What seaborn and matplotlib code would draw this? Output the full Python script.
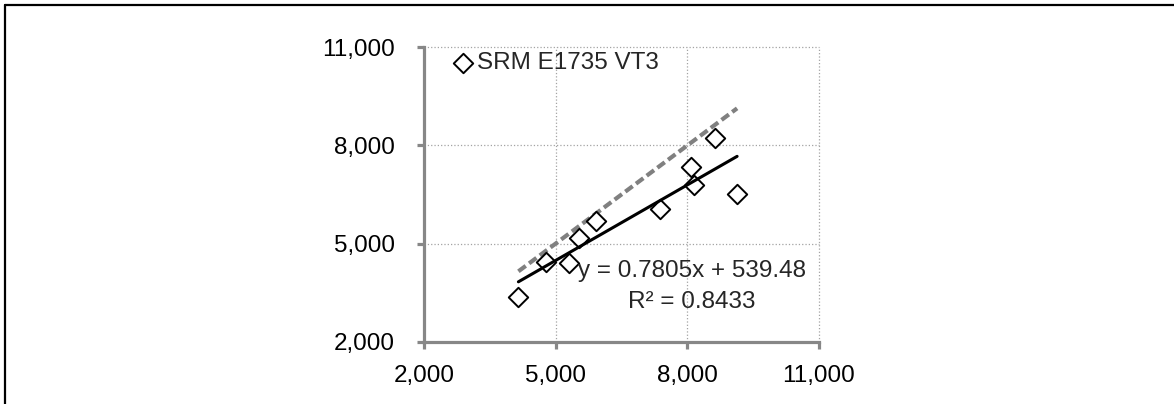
import numpy as np
import pandas as pd
import matplotlib
matplotlib.use("Agg")
import matplotlib.pyplot as plt
from matplotlib.lines import Line2D
import seaborn as sns

# ---- data ----
x_vals = [4151, 4776, 5315, 5536, 5917, 7384, 8084, 8144, 8639, 9134]
y_vals = [3378, 4431, 4400, 5165, 5704, 6053, 7327, 6776, 8236, 6521]
series_name = "SRM E1735 VT3"
tick_values = [2000, 5000, 8000, 11000]
tick_labels = ["2,000", "5,000", "8,000", "11,000"]
equation_text = "y = 0.7805x + 539.48\nR\u00b2 = 0.8433"

df = pd.DataFrame({"x": x_vals, "y": y_vals})
ident = pd.DataFrame({"x": [df["x"].min(), df["x"].max()]})
ident["y"] = ident["x"]

sns.set_style("white")
plt.rcParams["font.family"] = ["Liberation Sans", "DejaVu Sans"]

W, H = 1174, 404
fig = plt.figure(figsize=(W / 100, H / 100), dpi=100)
L, R, T, B = 424, 819, 47.3, 341.7
ax = fig.add_axes([L / W, 1 - B / H, (R - L) / W, (B - T) / H])

axis_gray = "#878787"
grid_gray = "#a3a3a3"

# 1:1 dashed line (behind markers)
sns.lineplot(data=ident, x="x", y="y", ax=ax, color="#808080", linewidth=3.0,
             dashes=False, zorder=2, legend=False)
ax.lines[-1].set_dashes((2.2, 1.0))

# markers
sns.scatterplot(data=df, x="x", y="y", ax=ax, marker="D", s=98,
                facecolor="white", edgecolor="black", linewidth=1.4,
                label=series_name, zorder=3)

# linear trendline
sns.regplot(data=df, x="x", y="y", ax=ax, scatter=False, ci=None, truncate=True,
            line_kws=dict(color="black", linewidth=2.2, zorder=4))

ax.set_xlim(tick_values[0], tick_values[-1])
ax.set_ylim(tick_values[0], tick_values[-1])
ax.set_xticks(tick_values)
ax.set_xticklabels(tick_labels)
ax.set_yticks(tick_values)
ax.set_yticklabels(tick_labels)
ax.set_xlabel("")
ax.set_ylabel("")

for s in ["top", "right"]:
    ax.spines[s].set_visible(False)
for s in ["left", "bottom"]:
    ax.spines[s].set_color(axis_gray)
    ax.spines[s].set_linewidth(2.3)

ax.tick_params(axis="both", which="major", direction="out", length=5,
               width=2.3, color=axis_gray, labelsize=17.5, labelcolor="black")
ax.tick_params(axis="x", pad=12)
ax.tick_params(axis="y", pad=16)
ax.tick_params(bottom=True, left=True)

ax.grid(True, linestyle=":", color=grid_gray, linewidth=0.9)
ax.set_axisbelow(True)
for gl in ax.get_xgridlines() + ax.get_ygridlines():
    gl.set_clip_on(False)

leg = ax.legend(loc="upper left", bbox_to_anchor=(0.06, 1.0), frameon=False,
                fontsize=17.5, handlelength=0.9, handletextpad=0.1, borderpad=0.2,
                borderaxespad=0.0)

ax.text(0.678, 0.1875, equation_text, transform=ax.transAxes, ha="center",
        va="center", fontsize=17.5, linespacing=1.55, zorder=5, multialignment="center")

# figure frame (top and left edges)
fig.add_artist(Line2D([5 / W, 1], [1 - 5 / H, 1 - 5 / H], color="black", linewidth=1.6,
                      transform=fig.transFigure))
fig.add_artist(Line2D([5 / W, 5 / W], [0, 1 - 5 / H], color="black", linewidth=1.6,
                      transform=fig.transFigure))

fig.savefig("out.png", dpi=100)
